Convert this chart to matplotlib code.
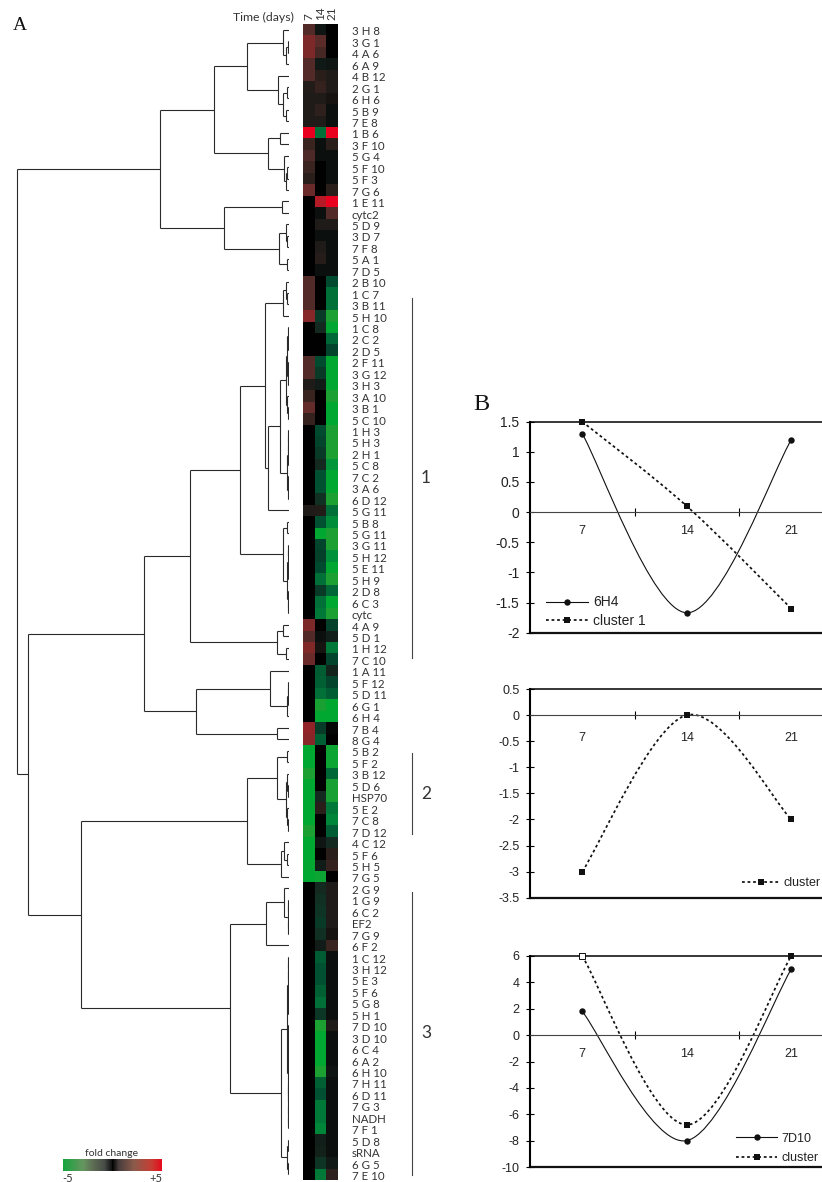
import matplotlib
matplotlib.use("Agg")
import matplotlib.pyplot as plt
import numpy as np
from matplotlib.collections import LineCollection
from matplotlib.colors import LinearSegmentedColormap, Normalize
from matplotlib.cm import ScalarMappable
from matplotlib.lines import Line2D
from matplotlib.patches import PathPatch
from matplotlib.path import Path
from matplotlib.transforms import ScaledTranslation

W, H = 822, 1182

# ------------------------------------------------------------------ data
gene_labels = ["3 H 8","3 G 1","4 A 6","6 A 9","4 B 12","2 G 1","6 H 6","5 B 9","7 E 8","1 B 6",
 "3 F 10","5 G 4","5 F 10","5 F 3","7 G 6","1 E 11","cytc2","5 D 9","3 D 7","7 F 8","5 A 1","7 D 5",
 "2 B 10","1 C 7","3 B 11","5 H 10","1 C 8","2 C 2","2 D 5","2 F 11","3 G 12","3 H 3","3 A 10","3 B 1",
 "5 C 10","1 H 3","5 H 3","2 H 1","5 C 8","7 C 2","3 A 6","6 D 12","5 G 11","5 B 8","5 G 11","3 G 11",
 "5 H 12","5 E 11","5 H 9","2 D 8","6 C 3","cytc","4 A 9","5 D 1","1 H 12","7 C 10","1 A 11","5 F 12",
 "5 D 11","6 G 1","6 H 4","7 B 4","8 G 4","5 B 2","5 F 2","3 B 12","5 D 6","HSP70","5 E 2","7 C 8",
 "7 D 12","4 C 12","5 F 6","5 H 5","7 G 5","2 G 9","1 G 9","6 C 2","EF2","7 G 9","6 F 2","1 C 12",
 "3 H 12","5 E 3","5 F 6","5 G 8","5 H 1","7 D 10","3 D 10","6 C 4","6 A 2","6 H 10","7 H 11","6 D 11",
 "7 G 3","NADH","7 F 1","5 D 8","sRNA","6 G 5","7 E 10"]

fold_day7 = [1.4,2.5,2.5,1.4,1.4,.5,.4,.4,.4,5,1,1.3,1,.7,2,0,0,0,0,0,0,0,1.4,1.4,1.4,2.7,0,0,0,1.4,1.4,.4,
 1,1.8,.9,0,0,0,0,0,0,0,.4,0,0,0,0,0,0,0,0,0,2.5,1.4,2.6,2,0,0,0,0,0,3,2.8,-5,-5,-4.5,-5,-5,-5,-5,-4.5,
 -5,-5,-4.9,-5,0,0,0,0,0,0,0,0,0,0,0,0,0,0,0,0,0,0,0,0,0,0,0,0,0,0]
fold_day14 = [-.3,1.6,1.2,-.4,.7,.9,.4,.8,.4,-3,-.2,-.2,0,0,0,3.8,-.2,.4,-.2,.4,.6,-.2,0,0,0,-1.5,-1,0,0,-2,
 -1.5,-.5,0,0,0,-2,-1.8,-1.5,-1,-2.2,-2.2,-1.2,.5,-2.2,-5,-1.8,-1.7,-2,-3,-1.5,-3,-3.2,0,-.2,.3,0,-2.5,
 -2.6,-3,-4.6,-5,-1.6,-2.6,0,0,0,0,-1,.7,0,0,-.3,0,-.5,-4.8,-1,-1.2,-1.3,-1.5,-1.2,-.5,-2.5,-2.2,-2.2,
 -2.6,-3,-1.4,-4.5,-5,-5,-5,-4.5,-2.6,-2.2,-3.2,-3.2,-3.4,-.6,-.7,-1.3,-3.2]
fold_day21 = [0,0,0,-.3,.4,.4,.3,-.2,-.2,5,.7,-.2,-.2,-.2,.7,5,1.4,.4,-.2,-.2,-.2,-.2,-2,-3,-3,-4.5,-5,-2.8,
 -1.8,-5,-5,-5,-4.5,-5,-5,-4.5,-4.5,-4.5,-4.2,-5,-5,-4.5,-3,-3.7,-4.5,-4.5,-4,-5,-4.5,-2.8,-5,-4.5,-1.7,
 -.6,-3.2,-1.8,-.8,-1.8,-2.5,-5,-5,-.1,0,-4.8,-4.8,-2.8,-4.6,-4.6,-3.2,-3.4,-2.5,-1,.7,.9,0,.4,.4,.4,.4,
 .3,1,-.2,-.2,-.2,-.2,-.2,-.2,.4,-.2,-.2,-.2,-.3,-.2,-.2,-.2,-.2,-.2,-.2,-.2,-.4,.8]
time_labels = ["7", "14", "21"]

# dendrogram: (merge position, child, child); integers are 1-based row numbers
branch_top = (214,
    (247, (283, 1, (286, (288, 2, 3), 4)),
          (278, 5, (283, (287, 6, 7), (286, 8, 9)))),
    (268, (280, 10, 11),
          (284, 12, (286, (287, 13, 14), 15))))
branch_mid = (224, (282, 16, 17),
    (279, (286, 18, (287, 19, 20)), (287, 21, 22)))
branch_c1a = (283, (286, 23, (287, 24, 25)), 26)
branch_c1b = (268,
    (280, (286, (287, (288, 27, (288, 28, 29)), (288, (288, 30, 31), 32)),
               (287, 33, (288, 34, 35))),
          (287, (288, (288, (288, 36, 37), 38), 39), (288, (288, 40, 41), 42))),
    43)
branch_c3 = (283, (287, 44, 45),
    (287, (288, (288, 46, 47), (288, 48, 49)), (288, 50, (288, 51, 52))))
branch_c5 = (277, (283, 53, 54), (286, 55, 56))
branch_b1b = (196,
    (270, 57, (287, (288, (288, 58, 59), 60), 61)),
    (277, 62, 63))
branch_b2a = (247,
    (277, (287, 64, 65),
          (286, (287, 66, (288, 67, 68)), (287, 69, (288, 70, 71)))),
    (281, (284, 72, (287, 73, 74)), 75))
branch_u = (266,
    (284, 76, (288, (288, 77, 78), (288, 79, 80))), 81)
branch_v = (281,
    (287, (288, (288, (288, 82, 83), 84), (288, 85, (288, 86, 87))),
          (288, (288, (288, 88, 89), (288, 90, (288, 91, 92))),
                (288, (288, 93, 94), (288, 95, (288, 96, 97))))),
    (287, (288, 98, 99), (288, 100, 101)))
tree = (17,
    (160, branch_top, branch_mid),
    (28,
     (144,
      (190, (240, (265, branch_c1a, branch_c1b), branch_c3), branch_c5),
      branch_b1b),
     (81, branch_b2a, (230, branch_u, branch_v))))

# panel B series
days = ["7", "14", "21"]
gene_6h4 = [1.3, -1.67, 1.2]
cluster_1 = [1.5, 0.1, -1.6]
cluster_2 = [-3.0, 0.0, -2.0]
gene_7d10 = [1.8, -8.0, 5.0]
cluster_3 = [6.0, -6.8, 6.0]

cluster_brackets = [("1", 23.9, 55.4), ("2", 63.7, 70.8), ("3", 75.8, 100.6)]

# ------------------------------------------------------------------ helpers
plt.rcParams["font.family"] = ["Lato", "DejaVu Sans"]
fig = plt.figure(figsize=(W / 100, H / 100), dpi=100)
fig.patch.set_facecolor("white")


def add_px_axes(x0, y0, x1, y1, **kw):
    return fig.add_axes([x0 / W, 1 - y1 / H, (x1 - x0) / W, (y1 - y0) / H], **kw)


heat_cmap = LinearSegmentedColormap.from_list("heat", [
    (0.00, "#00A832"), (0.05, "#1FA032"), (0.08, "#00963A"), (0.15, "#008A3A"), (0.20, "#006F38"),
    (0.30, "#004A30"), (0.40, "#142A20"), (0.47, "#101614"), (0.50, "#000000"), (0.54, "#1E1B18"),
    (0.58, "#2E201C"), (0.64, "#532C29"), (0.75, "#7D2A2A"), (0.87, "#B01E28"), (1.00, "#E8001E")])
bar_cmap = LinearSegmentedColormap.from_list("bar", [
    (0.00, "#14A53C"), (0.20, "#64965F"), (0.30, "#5F6E55"), (0.42, "#464B46"),
    (0.49, "#141414"), (0.50, "#000000"), (0.56, "#463C3C"), (0.72, "#8C5A4B"),
    (0.90, "#C83C32"), (1.00, "#E60A1E")])
norm = Normalize(-5, 5)

# ------------------------------------------------------------------ heat map
HEAT_TOP, HEAT_BOTTOM = 24, 1180
ax_heat = add_px_axes(303, HEAT_TOP, 338, HEAT_BOTTOM)
matrix = np.column_stack([fold_day7, fold_day14, fold_day21])
ax_heat.imshow(matrix, cmap=heat_cmap, norm=norm, aspect="auto",
               interpolation="nearest", extent=(0, 3, len(gene_labels), 0))
for s in ax_heat.spines.values():
    s.set_visible(False)
ax_heat.yaxis.tick_right()
ax_heat.set_yticks(np.arange(len(gene_labels)) + 0.5, gene_labels, fontsize=8.3, color="#333333")
ax_heat.tick_params(axis="y", length=0, pad=10)
label_shift = ScaledTranslation(0, -1.2 / 100, fig.dpi_scale_trans)
for lab in ax_heat.get_yticklabels():
    lab.set_transform(lab.get_transform() + label_shift)
ax_heat.xaxis.tick_top()
ax_heat.set_xticks([0.5, 1.5, 2.5], time_labels, rotation=90, fontsize=8.5, color="#333333")
ax_heat.tick_params(axis="x", length=0, pad=3)
fig.text(294 / W, 1 - 17 / H, "Time (days)", ha="right", va="center", fontsize=8.8, color="#333333")

# ------------------------------------------------------------------ dendrogram
ax_den = add_px_axes(0, HEAT_TOP, 289, HEAT_BOTTOM)
ax_den.set_xlim(0, 289)
ax_den.set_ylim(len(gene_labels), 0)
ax_den.axis("off")
segments = []


def walk(node):
    if isinstance(node, int):
        return 289, node - 0.5
    x, a, b = node
    xa, ya = walk(a)
    xb, yb = walk(b)
    segments.extend([[(x, ya), (xa, ya)], [(x, yb), (xb, yb)], [(x, ya), (x, yb)]])
    return x, (ya + yb) / 2


walk(tree)
ax_den.add_collection(LineCollection(segments, colors="#2a2a2a", linewidths=0.8))

# ------------------------------------------------------------------ overlay text / brackets
ax_over = add_px_axes(340, HEAT_TOP, 460, HEAT_BOTTOM)
ax_over.set_xlim(340, 460)
ax_over.set_ylim(len(gene_labels), 0)
ax_over.axis("off")
for name, first, last in cluster_brackets:
    ax_over.plot([412, 412], [first, last], color="#444444", lw=0.8)
    ax_over.text(426, (first + last) / 2, name, ha="center", va="center", fontsize=12.5,
                 color="#333333")

fig.text(13 / W, 1 - 25 / H, "A", family="Liberation Serif", fontsize=14, va="center", color="#111111")
fig.text(473 / W, 1 - 405 / H, "B", family="Liberation Serif", fontsize=17.5, va="center", color="#111111")

# colour legend
ax_bar = add_px_axes(63, 1159, 162, 1171)
cb = fig.colorbar(ScalarMappable(norm=norm, cmap=bar_cmap), cax=ax_bar, orientation="horizontal")
cb.outline.set_visible(False)
cb.set_ticks([-4.5, 4.4], labels=["-5", "+5"])
ax_bar.tick_params(axis="x", length=0, pad=1.5, labelsize=8, labelcolor="#333333")
fig.text(111.5 / W, 1 - 1153 / H, "fold change", ha="center", va="center", fontsize=7.5, color="#333333")


# ------------------------------------------------------------------ panel B
def smooth_path(values):
    """Spreadsheet-style smooth curve through the series points, as Bezier segments."""
    pts = [(i + 1.0, v) for i, v in enumerate(values)]
    verts, codes = [pts[0]], [Path.MOVETO]
    n = len(pts)
    for i in range(n - 1):
        p0 = pts[max(i - 1, 0)]
        p1, p2 = pts[i], pts[i + 1]
        p3 = pts[min(i + 2, n - 1)]
        c1 = (p1[0] + (p2[0] - p0[0]) / 6, p1[1] + (p2[1] - p0[1]) / 6)
        c2 = (p2[0] - (p3[0] - p1[0]) / 6, p2[1] - (p3[1] - p1[1]) / 6)
        verts += [c1, c2, p2]
        codes += [Path.CURVE4] * 3
    return Path(verts, codes)


SOLID = dict(color="#111111", lw=0.8, ls="-")
DOTTED = dict(color="#111111", lw=1.25, ls=(0, (1.6, 1.6)))


def draw_series(ax, values, style, marker):
    ax.add_patch(PathPatch(smooth_path(values), fill=False, edgecolor=style["color"],
                           lw=style["lw"], ls=style["ls"], clip_on=False, capstyle="butt"))
    ax.plot([1, 2, 3], values, ls="none", marker=marker, ms=4.6, color="#111111",
            mew=0, clip_on=False, zorder=5)


def chart(y_top, y_bottom, ymin, ymax, yticks, yticklabels, series, legend_xy, label_pad,
          tick_size=9.0, legend_size=9.0, handle_len=3.0, text_pad=0.35, spacing=0.62):
    # category spacing is 104.5 px, the plot runs past the picture's right edge
    ax = add_px_axes(530, y_top, 530 + 313.5, y_bottom)
    ax.set_xlim(0.5, 3.5)
    ax.set_ylim(ymin, ymax)
    ax.patch.set_alpha(0)
    ax.spines["right"].set_visible(False)
    ax.spines["left"].set_linewidth(1.5)
    ax.spines["top"].set_linewidth(1.1)
    ax.spines["bottom"].set_position(("data", 0))
    ax.spines["bottom"].set_linewidth(0.8)
    ax.spines["bottom"].set_color("#444444")
    ax.axhline(ymin, color="#111111", lw=1.6, clip_on=False)
    ax.set_yticks(yticks, yticklabels)
    ax.tick_params(axis="y", direction="inout", length=6, width=0.8, labelsize=tick_size, pad=4.5,
                   labelfontfamily="Liberation Sans", labelcolor="#222222")
    ax.set_xticks([1.5, 2.5], ["", ""])
    ax.tick_params(axis="x", which="major", direction="inout", length=6, width=0.8)
    ax.set_xticks([1, 2, 3], days, minor=True)
    ax.tick_params(axis="x", which="minor", length=0, pad=label_pad, labelsize=9,
                   labelfontfamily="Liberation Sans", labelcolor="#222222")
    handles = []
    for label, values, style, marker in series:
        draw_series(ax, values, style, marker)
        handles.append(Line2D([], [], marker=marker, ms=4.6, mew=0, label=label, **style))
    ax.legend(handles=handles, loc="upper left",
              bbox_to_anchor=((legend_xy[0] - 530) / 313.5, 1 - (legend_xy[1] - y_top) / (y_bottom - y_top)),
              frameon=False, borderpad=0, borderaxespad=0, handlelength=handle_len, handletextpad=text_pad,
              labelspacing=spacing, prop={"family": "Liberation Sans", "size": legend_size}, labelcolor="#222222")
    return ax


chart(421.7, 632.7, -2, 1.5, np.arange(-2, 1.6, 0.5),
      ["-2", "-1.5", "-1", "-0.5", "0", "0.5", "1", "1.5"],
      [("6H4", gene_6h4, SOLID, "o"), ("cluster 1", cluster_1, DOTTED, "s")], (546, 595.5), 9,
      tick_size=10, legend_size=10, handle_len=3.05, text_pad=0.35, spacing=0.3)
chart(689, 897.7, -3.5, 0.5, np.arange(-3.5, 0.6, 0.5),
      ["-3.5", "-3", "-2.5", "-2", "-1.5", "-1", "-0.5", "0", "0.5"],
      [("cluster", cluster_2, DOTTED, "s")], (742, 877.5), 12)
ax3 = chart(956, 1167, -10, 6, np.arange(-10, 7, 2),
            ["-10", "-8", "-6", "-4", "-2", "0", "2", "4", "6"],
            [("7D10", gene_7d10, SOLID, "o"), ("cluster", cluster_3, DOTTED, "s")], (736, 1132.5), 9,
            handle_len=3.3)
ax3.plot([1], cluster_3[:1], ls="none", marker="s", ms=4.6, mfc="white", mec="#111111", mew=0.7,
         clip_on=False, zorder=6)

fig.savefig("out.png", dpi=100, facecolor="white")
